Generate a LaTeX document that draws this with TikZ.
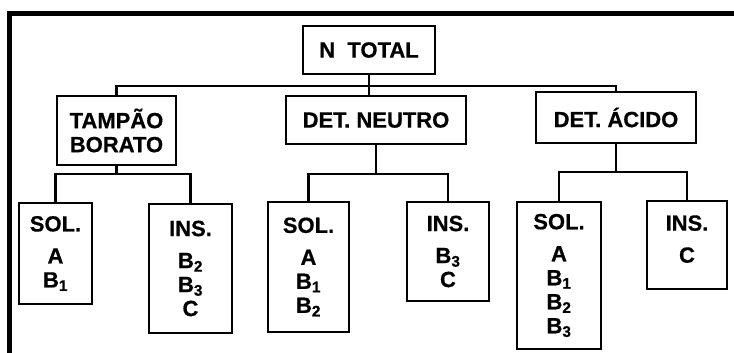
\documentclass[tikz,border=0pt]{standalone}
\usepackage{fontspec}
\setmainfont[BoldFeatures={FakeBold=0.6}]{Liberation Sans}
\usetikzlibrary{positioning}
\tikzset{
  orgbox/.style={draw, line width=2.4pt, align=center, inner sep=2pt,
                 font=\fontsize{22}{24}\selectfont\bfseries},
  fracbox/.style={orgbox, minimum width=#1},
  treeline/.style={line width=2.4pt},
  framerule/.style={line width=5pt},
}
\newcommand{\sB}[1]{B\textsubscript{#1}}

\begin{document}
\begin{tikzpicture}[x=1pt, y=-1pt]
\useasboundingbox (0,0) rectangle (734,353);
\def\yBusTop{86}   % y-position of the main bus
\def\yBusLow{174}  % y-position of the lower buses

%% Frame
\draw[framerule] (9.5,353) -- (9.5,14) -- (734,14);

%% Top level
\node[orgbox, minimum width=132pt, minimum height=48pt] (ntotal) at (369,50) {N\ \ TOTAL};

%% Extraction level
\node[orgbox, minimum width=119pt, minimum height=69pt] (tampao) at (116.5,130.5) {TAMPÃO\\BORATO};
\node[orgbox, minimum width=180pt, minimum height=48pt] (neutro) at (376,120) {DET. NEUTRO};
\node[orgbox, minimum width=160pt, minimum height=51pt] (acido) at (616,117.5) {DET. ÁCIDO};

%% Fractions
\node[fracbox=73pt, minimum height=101pt] (sol1) at (55.5,253.5) {SOL.\\[8pt]A\\\sB{1}};
\node[fracbox=83pt, minimum height=129pt] (ins1) at (190.5,268.5) {INS.\\[8pt]\sB{2}\\\sB{3}\\C};
\node[fracbox=81pt, minimum height=130pt] (sol2) at (308.5,267) {SOL.\\[8pt]A\\\sB{1}\\\sB{2}};
\node[fracbox=82pt, minimum height=99pt] (ins2) at (448,251.5) {INS.\\[8pt]\sB{3}\\C};
\node[fracbox=84pt, minimum height=147pt] (sol3) at (559,275.5) {SOL.\\[8pt]A\\\sB{1}\\\sB{2}\\\sB{3}};
\node[fracbox=80pt, minimum height=88pt, text depth=12pt] (ins3) at (687,245) {INS.\\[8pt]C};

%% Bus points
\coordinate (busTop) at (369,\yBusTop);
\coordinate (busA) at (116.5,\yBusLow);
\coordinate (busB) at (376,\yBusLow);
\coordinate (busC) at (616,172);

%% Tree lines
\draw[treeline] (ntotal.south) -- (ntotal.south |- neutro.north);
\draw[treeline] (tampao.north) |- (busTop) -| (acido.north);
\draw[treeline] (tampao.south) -- (busA);
\draw[treeline] (sol1.north) |- (busA) -| (ins1.north);
\draw[treeline] (neutro.south) -- (busB);
\draw[treeline] (sol2.north) |- (busB) -| (ins2.north);
\draw[treeline] (acido.south) -- (busC);
\draw[treeline] (sol3.north) |- (busC) -| (ins3.north);
\end{tikzpicture}
\end{document}
